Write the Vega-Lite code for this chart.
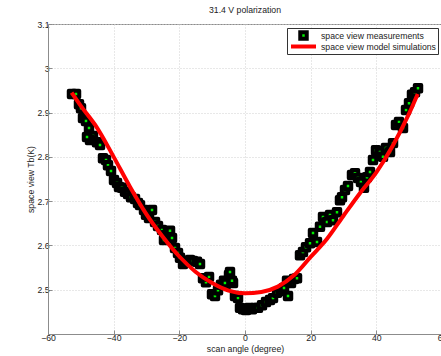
{
  "$schema": "https://vega.github.io/schema/vega-lite/v6.json",
  "autosize": {"type": "none"},
  "width": 394,
  "height": 310,
  "padding": {"left": 48, "top": 24, "right": 0, "bottom": 22},
  "background": "white",
  "title": {"text": "31.4 V polarization", "fontSize": 8.7, "font": "Liberation Sans", "fontWeight": "normal", "color": "#222", "offset": 5},
  "config": {
    "view": {"stroke": "#8c8c8c", "strokeWidth": 1},
    "axis": {
      "labelFont": "Liberation Sans", "labelFontSize": 8.7, "labelColor": "#222", "labelFlush": false,
      "titleFont": "Liberation Sans", "titleFontSize": 8.7, "titleColor": "#222", "titleFontWeight": "normal",
      "domainColor": "#8c8c8c", "tickColor": "#8c8c8c", "tickSize": -4,
      "gridColor": "#d0d0d0", "gridDash": [1, 2], "gridWidth": 1
    },
    "legend": {
      "orient": "none", "legendX": 239, "legendY": 4, "columns": 1, "clipHeight": 11,
      "fillColor": "white", "strokeColor": "#333", "padding": 2, "rowPadding": 0,
      "labelFont": "Liberation Sans", "labelFontSize": 8.7, "labelColor": "#222", "labelOffset": 3,
      "symbolStrokeWidth": 4, "symbolOpacity": 1
    }
  },
  "datasets": {
    "meas": [
      {"a": -52.69, "tb": 2.942}, {"a": -51.47, "tb": 2.942}, {"a": -50.56, "tb": 2.919}, {"a": -49.95, "tb": 2.910},
      {"a": -49.34, "tb": 2.888}, {"a": -48.43, "tb": 2.881}, {"a": -47.51, "tb": 2.865}, {"a": -46.29, "tb": 2.847},
      {"a": -47.21, "tb": 2.838}, {"a": -48.12, "tb": 2.845}, {"a": -45.08, "tb": 2.833}, {"a": -44.16, "tb": 2.827},
      {"a": -43.25, "tb": 2.797}, {"a": -42.33, "tb": 2.793}, {"a": -41.73, "tb": 2.781}, {"a": -40.81, "tb": 2.768},
      {"a": -39.9, "tb": 2.748}, {"a": -38.98, "tb": 2.741}, {"a": -38.38, "tb": 2.732}, {"a": -37.46, "tb": 2.730},
      {"a": -36.55, "tb": 2.721}, {"a": -35.63, "tb": 2.716}, {"a": -34.72, "tb": 2.709}, {"a": -33.5, "tb": 2.705},
      {"a": -32.59, "tb": 2.696}, {"a": -31.98, "tb": 2.691}, {"a": -30.76, "tb": 2.680}, {"a": -30.15, "tb": 2.669},
      {"a": -29.24, "tb": 2.662}, {"a": -28.32, "tb": 2.680}, {"a": -27.41, "tb": 2.653}, {"a": -26.5, "tb": 2.644},
      {"a": -25.28, "tb": 2.635}, {"a": -24.37, "tb": 2.623}, {"a": -23.45, "tb": 2.630}, {"a": -22.84, "tb": 2.633},
      {"a": -24.67, "tb": 2.612}, {"a": -22.23, "tb": 2.617}, {"a": -21.32, "tb": 2.594}, {"a": -20.41, "tb": 2.583},
      {"a": -19.8, "tb": 2.572}, {"a": -18.88, "tb": 2.558}, {"a": -17.97, "tb": 2.563}, {"a": -16.75, "tb": 2.567},
      {"a": -15.84, "tb": 2.565}, {"a": -14.62, "tb": 2.563}, {"a": -13.71, "tb": 2.558}, {"a": -12.79, "tb": 2.526},
      {"a": -11.88, "tb": 2.517}, {"a": -10.96, "tb": 2.529}, {"a": -10.05, "tb": 2.490}, {"a": -9.14, "tb": 2.486},
      {"a": -8.22, "tb": 2.499}, {"a": -7.31, "tb": 2.511}, {"a": -6.4, "tb": 2.520}, {"a": -5.79, "tb": 2.513},
      {"a": -4.87, "tb": 2.533}, {"a": -4.57, "tb": 2.540}, {"a": -3.65, "tb": 2.515}, {"a": -6.1, "tb": 2.515},
      {"a": -3.96, "tb": 2.520}, {"a": -3.05, "tb": 2.486}, {"a": -2.13, "tb": 2.481}, {"a": -1.52, "tb": 2.459},
      {"a": -0.61, "tb": 2.456},
      {"a": 0.3, "tb": 2.454}, {"a": 1.22, "tb": 2.459}, {"a": 2.13, "tb": 2.456}, {"a": 3.05, "tb": 2.459},
      {"a": 3.96, "tb": 2.459}, {"a": 5.18, "tb": 2.465}, {"a": 6.4, "tb": 2.472}, {"a": 7.61, "tb": 2.477},
      {"a": 8.53, "tb": 2.481}, {"a": 9.75, "tb": 2.493}, {"a": 10.96, "tb": 2.497}, {"a": 11.88, "tb": 2.504},
      {"a": 13.1, "tb": 2.486}, {"a": 14.01, "tb": 2.515}, {"a": 14.92, "tb": 2.524}, {"a": 15.84, "tb": 2.526},
      {"a": 12.8, "tb": 2.520}, {"a": 16.75, "tb": 2.578}, {"a": 17.66, "tb": 2.585}, {"a": 18.58, "tb": 2.596},
      {"a": 19.8, "tb": 2.605}, {"a": 20.71, "tb": 2.628}, {"a": 21.93, "tb": 2.608}, {"a": 22.84, "tb": 2.642},
      {"a": 23.76, "tb": 2.664}, {"a": 24.97, "tb": 2.653}, {"a": 25.89, "tb": 2.669}, {"a": 26.8, "tb": 2.657},
      {"a": 28.02, "tb": 2.675}, {"a": 28.93, "tb": 2.702}, {"a": 29.54, "tb": 2.709}, {"a": 30.46, "tb": 2.725},
      {"a": 31.37, "tb": 2.734}, {"a": 32.59, "tb": 2.759}, {"a": 33.5, "tb": 2.763}, {"a": 34.42, "tb": 2.752},
      {"a": 35.33, "tb": 2.743}, {"a": 36.24, "tb": 2.730}, {"a": 37.16, "tb": 2.754}, {"a": 38.07, "tb": 2.766},
      {"a": 38.98, "tb": 2.793}, {"a": 39.9, "tb": 2.815}, {"a": 41.12, "tb": 2.811}, {"a": 42.03, "tb": 2.800},
      {"a": 42.94, "tb": 2.820}, {"a": 44.16, "tb": 2.811}, {"a": 45.08, "tb": 2.831}, {"a": 45.99, "tb": 2.872},
      {"a": 46.9, "tb": 2.879}, {"a": 48.12, "tb": 2.865}, {"a": 49.04, "tb": 2.906}, {"a": 49.95, "tb": 2.921},
      {"a": 50.86, "tb": 2.940}, {"a": 51.78, "tb": 2.946}, {"a": 52.69, "tb": 2.955}
    ],
    "model": [
      {"a": -52.8, "tb": 2.945}, {"a": -50, "tb": 2.915}, {"a": -45, "tb": 2.865}, {"a": -40, "tb": 2.800},
      {"a": -35, "tb": 2.732}, {"a": -30, "tb": 2.670}, {"a": -25, "tb": 2.619}, {"a": -20, "tb": 2.575},
      {"a": -15, "tb": 2.540}, {"a": -10, "tb": 2.515}, {"a": -5, "tb": 2.498}, {"a": 0, "tb": 2.492},
      {"a": 5, "tb": 2.495}, {"a": 10, "tb": 2.507}, {"a": 15, "tb": 2.533}, {"a": 20, "tb": 2.574},
      {"a": 25, "tb": 2.615}, {"a": 30, "tb": 2.667}, {"a": 35, "tb": 2.718}, {"a": 40, "tb": 2.765},
      {"a": 45, "tb": 2.825}, {"a": 50, "tb": 2.898}, {"a": 52.6, "tb": 2.942}
    ]
  },
  "encoding": {
    "x": {"field": "a", "type": "quantitative", "scale": {"domain": [-60, 60], "nice": false},
      "axis": {"title": "scan angle (degree)", "values": [-60, -40, -20, 0, 20, 40, 60], "labelPadding": 3, "titlePadding": 3, "grid": true}},
    "y": {"field": "tb", "type": "quantitative", "scale": {"domain": [2.4, 3.1], "nice": false, "zero": false},
      "axis": {"title": "space view Tb(K)", "values": [2.4, 2.5, 2.6, 2.7, 2.8, 2.9, 3.0, 3.1],
        "labelExpr": "datum.value < 2.45 ? '' : format(datum.value, '.2~f')", "labelPadding": 3, "titlePadding": 1, "grid": true}}
  },
  "layer": [
    {
      "data": {"name": "meas"},
      "mark": {"type": "point", "filled": true, "strokeWidth": 4, "strokeJoin": "round", "opacity": 1},
      "encoding": {
        "stroke": {"datum": "space view measurements", "type": "nominal",
          "scale": {"domain": ["space view measurements", "space view model simulations"], "range": ["black", "#ff0000"]},
          "legend": {"title": null}},
        "fill": {"datum": "space view measurements", "type": "nominal",
          "scale": {"domain": ["space view measurements", "space view model simulations"], "range": ["#00ee00", "transparent"]},
          "legend": {"title": null}},
        "shape": {"datum": "space view measurements", "type": "nominal",
          "scale": {"domain": ["space view measurements", "space view model simulations"], "range": ["square", "stroke"]},
          "legend": {"title": null}},
        "size": {"datum": "space view measurements", "type": "nominal",
          "scale": {"domain": ["space view measurements", "space view model simulations"], "range": [42, 625]},
          "legend": {"title": null}}
      }
    },
    {
      "data": {"name": "model"},
      "mark": {"type": "line", "strokeWidth": 4, "interpolate": "monotone"},
      "encoding": {
        "stroke": {"datum": "space view model simulations", "type": "nominal"}
      }
    }
  ]
}
